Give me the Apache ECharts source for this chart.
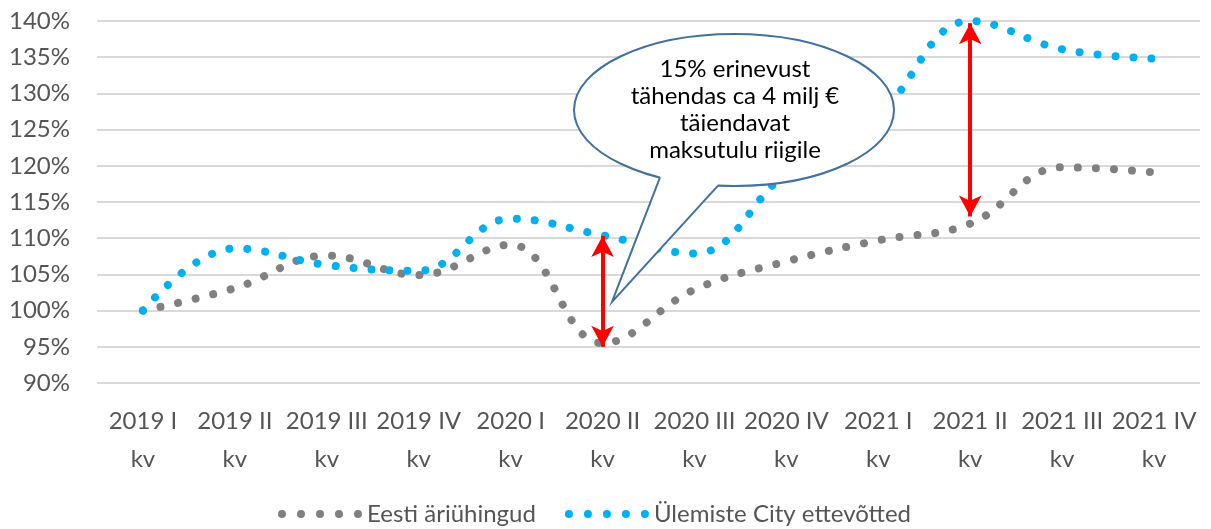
<!DOCTYPE html>
<html>
<head>
<meta charset="utf-8">
<script src="https://cdn.jsdelivr.net/npm/echarts@6/dist/echarts.min.js"></script>
<style>
  html, body { margin: 0; padding: 0; background: #fff; }
  #chart { width: 1211px; height: 529px; }
</style>
</head>
<body>
<div id="chart"></div>
<script>
// quarters on the x axis
const quarters = ['2019 I kv', '2019 II kv', '2019 III kv', '2019 IV kv',
    '2020 I kv', '2020 II kv', '2020 III kv', '2020 IV kv',
    '2021 I kv', '2021 II kv', '2021 III kv', '2021 IV kv'];

// index, 2019 I kv = 100%
const eestiValues = [100.0, 103.1, 107.6, 104.9, 109.1, 95.5, 102.9, 106.8, 109.7, 112.0, 119.8, 119.1];
const ulemisteValues = [100.0, 108.6, 106.3, 105.5, 112.7, 110.4, 107.9, 119.0, 127.0, 140.0, 136.1, 134.8];

// red double arrows: [quarter, from, to]
const gapArrows = [
    ['2020 II kv', 110.3, 95.0],
    ['2021 II kv', 139.7, 113.0]
];

const calloutText = '15% erinevust\ntähendas ca 4 milj €\ntäiendavat\nmaksutulu riigile';

const FONT = 'Lato, "Noto Sans", sans-serif';
const GREY = '#808080';
const BLUE = '#00B0F0';
const dotIcon = 'path://M0,4a4,4 0 1,0 8,0a4,4 0 1,0 -8,0M19,4a4,4 0 1,0 8,0a4,4 0 1,0 -8,0M38,4a4,4 0 1,0 8,0a4,4 0 1,0 -8,0M57,4a4,4 0 1,0 8,0a4,4 0 1,0 -8,0M76,4a4,4 0 1,0 8,0a4,4 0 1,0 -8,0';

const myChart = echarts.init(document.getElementById('chart'));

function dottedLine(color) {
    return {
        color: color,
        width: 8,
        type: [0.01, 18],
        cap: 'round'
    };
}

const option = {
    animation: false,
    backgroundColor: '#fff',
    grid: { left: 97, right: 11, top: 21, bottom: 146 },
    legend: {
        left: 273,
        top: 497,
        icon: dotIcon,
        itemWidth: 84,
        itemHeight: 8,
        itemGap: 29,
        itemStyle: { borderWidth: 0 },
        textStyle: { fontFamily: FONT, fontSize: 24, color: '#555', lineHeight: 24 },
        data: ['Eesti äriühingud', 'Ülemiste City ettevõtted']
    },
    xAxis: {
        type: 'category',
        data: quarters,
        boundaryGap: true,
        axisLine: { show: false },
        axisTick: { show: false },
        axisLabel: {
            interval: 0,
            margin: 19,
            fontFamily: FONT,
            fontSize: 24,
            lineHeight: 38,
            color: '#555',
            formatter: v => v.replace(' kv', '\nkv')
        }
    },
    yAxis: {
        type: 'value',
        min: 90,
        max: 140,
        interval: 5,
        axisLine: { show: false },
        axisTick: { show: false },
        axisLabel: {
            margin: 27,
            fontFamily: FONT,
            fontSize: 24,
            color: '#555',
            formatter: '{value}%'
        },
        splitLine: { lineStyle: { color: '#D9D9D9', width: 2 } }
    },
    series: [
        {
            name: 'Eesti äriühingud',
            type: 'line',
            data: eestiValues,
            smooth: 0.4,
            showSymbol: false,
            itemStyle: { color: GREY },
            lineStyle: dottedLine(GREY)
        },
        {
            name: 'Ülemiste City ettevõtted',
            type: 'line',
            data: ulemisteValues,
            smooth: 0.4,
            showSymbol: false,
            itemStyle: { color: BLUE },
            lineStyle: dottedLine(BLUE),
            markLine: {
                silent: true,
                symbol: ['arrow', 'arrow'],
                symbolSize: [17, 21],
                label: { show: false },
                lineStyle: { color: '#FF0000', width: 4, type: 'solid' },
                data: gapArrows.map(a => [
                    { coord: [a[0], a[1]] },
                    { coord: [a[0], a[2]] }
                ])
            }
        }
    ],
    graphic: [
        {
            type: 'ellipse',
            z: 100,
            shape: { cx: 734, cy: 110, rx: 160, ry: 76 },
            style: { fill: '#fff', stroke: '#41719C', lineWidth: 2 }
        },
        {
            type: 'polygon',
            z: 101,
            shape: { points: [[661, 172], [660, 177.4], [612, 302], [718, 185.6], [716, 180], [690, 178]] },
            style: { fill: '#fff' }
        },
        {
            type: 'polyline',
            z: 102,
            shape: { points: [[660, 177.4], [612, 302], [718, 185.6]] },
            style: { fill: null, stroke: '#41719C', lineWidth: 2 }
        },
        {
            type: 'text',
            z: 103,
            x: 735,
            y: 110,
            style: {
                text: calloutText,
                align: 'center',
                verticalAlign: 'middle',
                fontFamily: FONT,
                fontSize: 24,
                lineHeight: 27,
                fill: '#000'
            }
        }
    ]
};

myChart.setOption(option);
</script>
</body>
</html>
